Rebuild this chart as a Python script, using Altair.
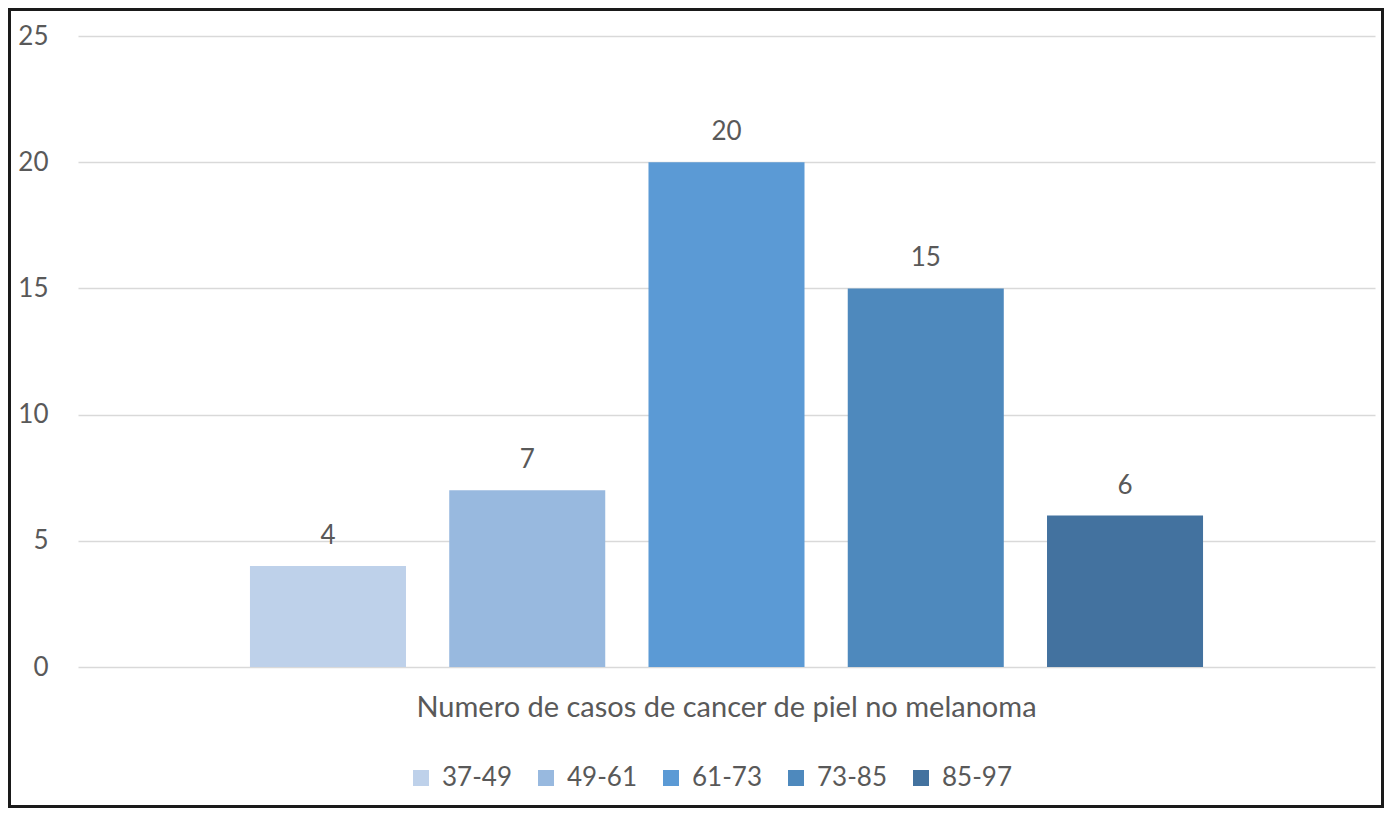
import altair as alt
import pandas as pd

categories = ["Numero de casos de cancer de piel no melanoma"] * 5
groups = ["37-49", "49-61", "61-73", "73-85", "85-97"]
values = [4, 7, 20, 15, 6]
colors = ["#BED1EA", "#98B9DF", "#5B9AD5", "#4E89BD", "#43729F"]

df = pd.DataFrame({"cat": categories, "grupo": groups, "valor": values})

FONT = "Lato"
TXT = "#595959"
W, H = 1297, 631
PL, PT, PR, PB = 70, 28, 9, 141

base = alt.Chart(df)

bars = base.mark_bar().encode(
    x=alt.X("cat:N", title=None,
            scale=alt.Scale(paddingInner=0, paddingOuter=0),
            axis=alt.Axis(labelFontSize=29, labelColor=TXT, labelFont=FONT,
                          ticks=False, domain=False, grid=False, labelPadding=26,
                          labelAngle=0, labelLimit=1000)),
    xOffset=alt.XOffset("grupo:N", sort=groups,
                        scale=alt.Scale(paddingInner=0.217, paddingOuter=0.863)),
    y=alt.Y("valor:Q", title=None,
            scale=alt.Scale(domain=[0, 25], nice=False),
            axis=alt.Axis(values=[0, 5, 10, 15, 20, 25], labelFontSize=26,
                          labelColor=TXT, labelFont=FONT, ticks=False,
                          domain=False, labelPadding=30,
                          gridColor="#D9D9D9", gridWidth=1.5)),
    color=alt.Color("grupo:N", sort=groups,
                    scale=alt.Scale(domain=groups, range=colors),
                    legend=alt.Legend(title=None, orient="none", direction="horizontal",
                                      legendX=330, legendY=729,
                                      symbolType="square", symbolSize=256,
                                      symbolStrokeWidth=0, labelFontSize=26,
                                      labelFont=FONT, labelColor=TXT,
                                      labelOffset=8, columnPadding=21)),
)

labels = base.mark_text(baseline="alphabetic", dy=-22, fontSize=26,
                        font=FONT, color=TXT).encode(
    x=alt.X("cat:N"),
    xOffset=alt.XOffset("grupo:N", sort=groups),
    y=alt.Y("valor:Q"),
    text=alt.Text("valor:Q"),
)

border = base.mark_rect(fill=None, stroke="#1a1a1a", strokeWidth=3).encode(
    x=alt.value(-PL + 1.5), x2=alt.value(W + PR - 1.5),
    y=alt.value(-PT + 1.5), y2=alt.value(H + PB - 1.5),
)

chart = alt.layer(bars, labels, border).properties(
    width=W, height=H,
    autosize=alt.AutoSizeParams(type="none"),
    padding={"left": PL, "top": PT, "right": PR, "bottom": PB},
    background="white",
).configure_view(strokeWidth=0)

chart.save("out.html", embed_options={"renderer": "svg", "actions": False})
